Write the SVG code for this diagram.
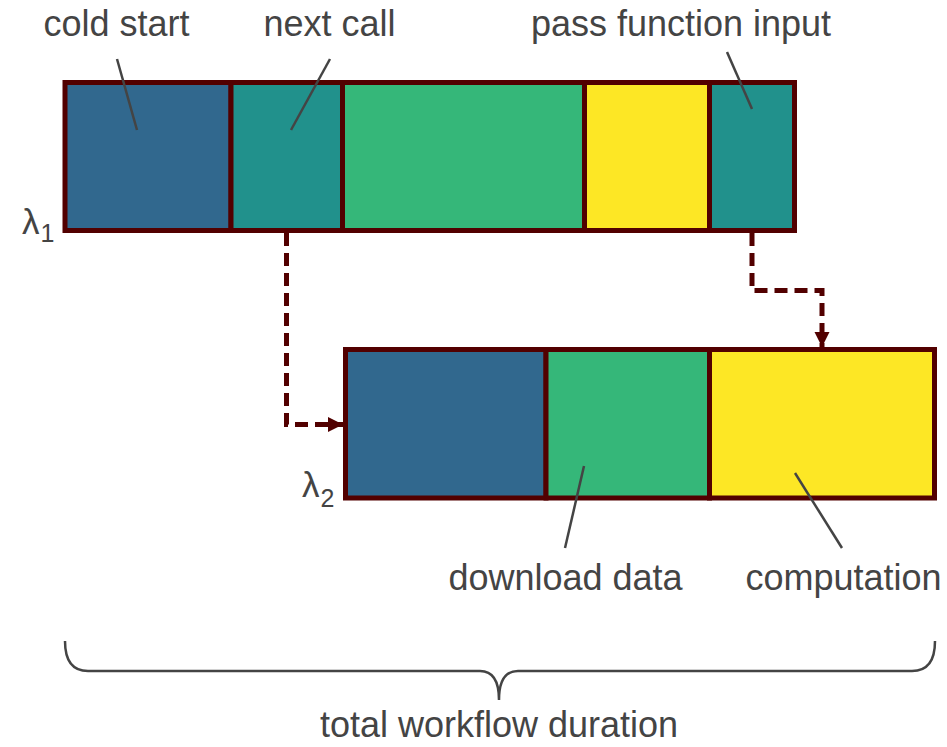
<svg xmlns="http://www.w3.org/2000/svg" width="947" height="747" viewBox="0 0 947 747">
<style>
.seg{stroke:#520000;stroke-width:5}
.b{fill:#31688e}.t{fill:#21918c}.g{fill:#35b779}.y{fill:#fde725}
.lbl{font-family:"Liberation Sans",Arial,sans-serif;font-size:36px;fill:#444;text-anchor:middle}
.lam{font-family:"Liberation Sans",Arial,sans-serif;font-size:35px;fill:#444}
.sub{font-size:25px}
.lead{stroke:#444;stroke-width:2.5;fill:none}
.conn{stroke:#520000;stroke-width:5;fill:none;stroke-dasharray:13 7}
</style>
<defs>
<marker id="ah" markerUnits="userSpaceOnUse" markerWidth="16" markerHeight="16" viewBox="0 0 16 16" refX="15" refY="8" orient="auto">
<path d="M0,0.5 L15,8 L0,15.5 Z" fill="#520000"/>
</marker>
</defs>
<g id="lambda1">
<rect id="l1-cold" class="seg b" x="65" y="82.5" width="166" height="148"/>
<rect id="l1-next" class="seg t" x="231" y="82.5" width="111.5" height="148"/>
<rect id="l1-download" class="seg g" x="342.5" y="82.5" width="242" height="148"/>
<rect id="l1-compute" class="seg y" x="584.5" y="82.5" width="125" height="148"/>
<rect id="l1-pass" class="seg t" x="709.5" y="82.5" width="85" height="148"/>
<text class="lam" x="22" y="234">λ<tspan class="sub" dx="1" dy="8">1</tspan></text>
</g>
<g id="lambda2">
<rect id="l2-cold" class="seg b" x="345.5" y="349.5" width="200.5" height="148.5"/>
<rect id="l2-download" class="seg g" x="546" y="349.5" width="163.5" height="148.5"/>
<rect id="l2-compute" class="seg y" x="709.5" y="349.5" width="225" height="148.5"/>
<text class="lam" x="302" y="497">λ<tspan class="sub" dx="1" dy="10">2</tspan></text>
</g>
<g id="connectors">
<path class="conn" d="M286.5,233 V424.5 H343" marker-end="url(#ah)"/>
<path class="conn" d="M752,233 V290.5 H822 V347" marker-end="url(#ah)"/>
</g>
<g id="labels">
<text class="lbl" x="116.5" y="36">cold start</text>
<line class="lead" x1="117" y1="59" x2="137" y2="130"/>
<text class="lbl" x="329.5" y="36">next call</text>
<line class="lead" x1="330" y1="59" x2="291" y2="130"/>
<text class="lbl" x="681" y="36">pass function input</text>
<line class="lead" x1="727" y1="52" x2="752" y2="109"/>
<text class="lbl" x="565.5" y="590">download data</text>
<line class="lead" x1="584" y1="466" x2="565" y2="548"/>
<text class="lbl" x="843.5" y="590">computation</text>
<line class="lead" x1="795" y1="473" x2="842" y2="548"/>
</g>
<g id="brace">
<path class="lead" d="M65,641 Q65,671 88,671 L480,671 Q499,671 499,700 Q499,671 518,671 L912,671 Q935,671 935,641"/>
<text class="lbl" x="499" y="737">total workflow duration</text>
</g>
</svg>
